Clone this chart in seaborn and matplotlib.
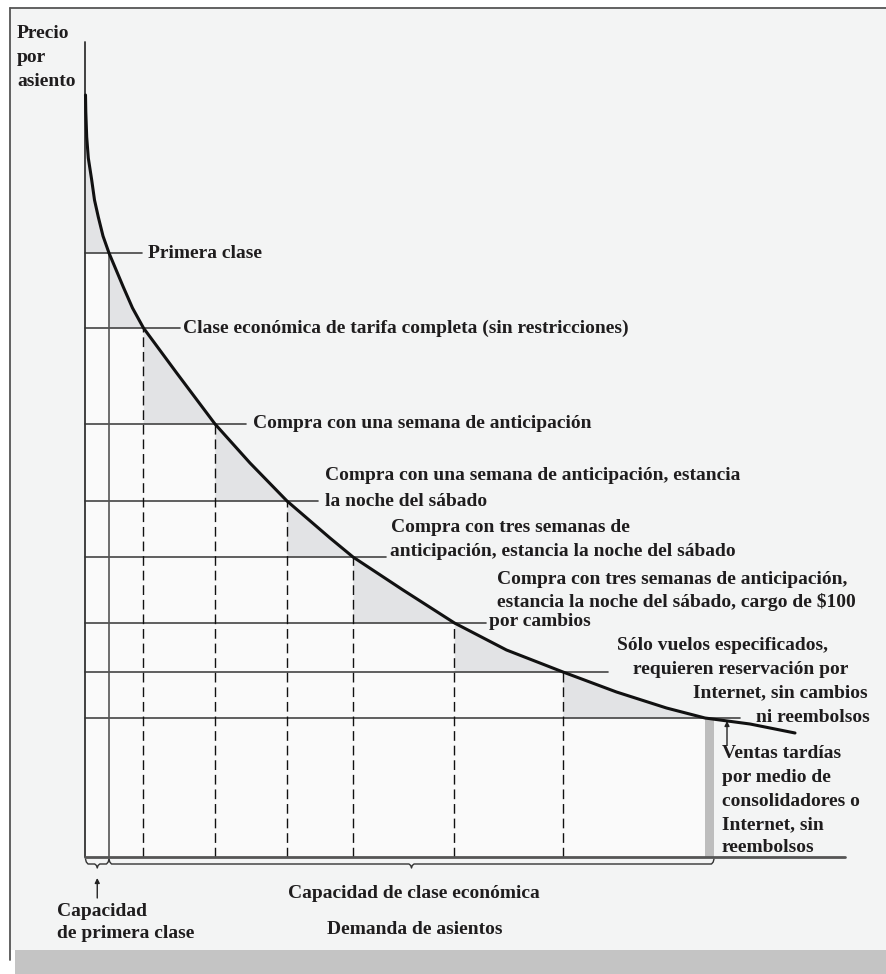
import matplotlib
matplotlib.use("Agg")
import matplotlib.pyplot as plt
import seaborn as sns
import numpy as np
from matplotlib.lines import Line2D
from matplotlib.patches import Rectangle

# ---------------- data ----------------
# demand curve: quantity of seats vs price per seat (arbitrary units)
curve_q = [0, 0.3, 1.2, 2.8, 6.2, 9.0, 12.8, 17.5, 23.5, 37.8, 47, 58, 91.2,
           129.5, 164.5, 201.5, 244.5, 267.5, 317.5, 369, 421, 477.5, 531,
           581, 619.5, 664.5, 709.5]
curve_p = [762, 745, 720, 699, 677, 657, 640, 621, 604, 570, 549, 529, 484,
           433, 394, 356, 319, 300, 267, 234, 207, 185, 165,
           149, 139, 133, 124]

# fare tiers: cumulative seats and price level
tier_q = [23.5, 58, 129.5, 201.5, 267.5, 369, 477.5, 619.5]
tier_p = [604, 529, 433, 356, 300, 234, 185, 139]
tier_line_end = [57, 94.5, 161, 232.5, 301, 401, 523, 654.5]

late_sales_width = 9          # grey bar of late sales
axis_top = 815
axis_right = 760

# tier labels: (anchor tier index, alignment, [(text, x, dy), ...])
tier_labels = [
    (0, "left", [("Primera clase", 62.5, 0)]),
    (1, "left", [("Clase económica de tarifa completa (sin restricciones)", 97.5, 0)]),
    (2, "left", [("Compra con una semana de anticipación", 167.5, 0)]),
    (3, "left", [("Compra con una semana de anticipación, estancia", 239.5, 26),
                 ("la noche del sábado", 239.5, 0)]),
    (4, "left", [("Compra con tres semanas de", 306, 29),
                 ("anticipación, estancia la noche del sábado", 304.5, 5)]),
    (5, "left", [("Compra con tres semanas de anticipación,", 411.5, 43),
                 ("estancia la noche del sábado, cargo de $100", 411.5, 21),
                 ("por cambios", 403.5, 1)]),
    (7, "right", [("Sólo vuelos especificados,", 742.5, 73),
                  ("requieren reservación por", 762.5, 48),
                  ("Internet, sin cambios", 782.5, 25),
                  ("ni reembolsos", 784.5, 1)]),
]
late_label = ["Ventas tardías", "por medio de", "consolidadores o",
              "Internet, sin", "reembolsos"]
y_label = ["Precio", "por", "asiento"]
x_title = "Demanda de asientos"
first_cap = ["Capacidad", "de primera clase"]
econ_cap = "Capacidad de clase económica"

# ---------------- style ----------------
sns.set_theme(style="white")
plt.rcParams["font.family"] = ["Liberation Serif", "DejaVu Serif"]
FS = 14
TXT = "#1f1d1e"
W, H = 887, 974
fig = plt.figure(figsize=(W / 100, H / 100), dpi=100, facecolor="white")


def fx(px):
    return px / W


def fy(py):
    return 1 - py / H


# frame and bottom strip (figure decorations)
fig.add_artist(Rectangle((fx(10), fy(950)), fx(W) - fx(10), fy(8) - fy(950),
                         transform=fig.transFigure, facecolor="#f3f4f4",
                         edgecolor="none", zorder=0))
fig.add_artist(Line2D([fx(10), fx(10)], [fy(960), fy(8)], transform=fig.transFigure,
                      color="#555555", lw=1.3))
fig.add_artist(Line2D([fx(10), fx(W)], [fy(8), fy(8)], transform=fig.transFigure,
                      color="#555555", lw=1.3))
fig.add_artist(Rectangle((fx(15), fy(H)), fx(W) - fx(15), fy(950) - fy(H),
                         transform=fig.transFigure, facecolor="#c4c4c4",
                         edgecolor="none", zorder=1))

ax = fig.add_axes([0, 0, 1, 1])
ax.set_xlim(-85.5, W - 85.5)
ax.set_ylim(857 - H, 857)
ax.axis("off")
ax.patch.set_alpha(0)

cq = np.array(curve_q)
cp = np.array(curve_p)

# lighter cells below each fare level
lefts = [0] + tier_q[:-1]
widths = [r - l for l, r in zip(lefts, tier_q)]
ax.bar(lefts, tier_p, width=widths, align="edge", color="#fafafa",
       edgecolor="none", zorder=1)

# shaded triangles between the curve and each fare level
for l, r, p in zip(lefts, tier_q, tier_p):
    m = (cq >= l - 1e-9) & (cq <= r + 1e-9)
    ax.fill_between(cq[m], cp[m], p, color="#e2e3e5", lw=0, zorder=2)

# late sales bar
ax.bar([tier_q[-1]], [tier_p[-1]], width=late_sales_width, align="edge",
       color="#bdbdbd", edgecolor="none", zorder=3)

# level lines
for p, e in zip(tier_p, tier_line_end):
    ax.plot([0, e], [p, p], color="#444444", lw=1.2, zorder=4)

# vertical lines
ax.plot([tier_q[0], tier_q[0]], [0, tier_p[0]], color="#555555", lw=1.2, zorder=4)
for q, p in zip(tier_q[1:-1], tier_p[1:-1]):
    ax.plot([q, q], [0, p], color="#111111", lw=1.0, ls=(0, (7, 3.5)), zorder=4)

# axes
ax.plot([0, 0], [0, axis_top], color="#333333", lw=1.3, zorder=5)
ax.plot([0, axis_right], [0, 0], color="#555555", lw=2.0, zorder=5)

# demand curve
sns.lineplot(x=curve_q, y=curve_p, ax=ax, color="#111111", lw=2.2,
             sort=False, estimator=None, zorder=6)

# tier labels
for idx, ha, lines in tier_labels:
    p = tier_p[idx]
    for t, x, dy in lines:
        ax.text(x, p + dy, t, fontsize=FS, fontweight="bold",
                ha=ha, va="center", color=TXT, zorder=7)

# late sales label and arrow
for k, t in enumerate(late_label):
    ax.text(636.5, 103 - k * 23.5, t, fontsize=FS, fontweight="bold",
            ha="left", va="center", color=TXT)
ax.annotate("", xy=(641.5, 136), xytext=(641.5, 112),
            arrowprops=dict(arrowstyle="-|>", color="#222222", lw=1.0,
                            mutation_scale=7, shrinkA=0, shrinkB=0))

# y label
for k, t in enumerate(y_label):
    ax.text(-68.5, 824 - k * 24, t, fontsize=FS, fontweight="bold",
            ha="left", va="center", color=TXT)


# curly braces under the x axis
def brace(a, b):
    mid = (a + b) / 2
    xs = [a, a + 0.8, a + 2.5, mid - 2.5, mid - 0.8, mid,
          mid + 0.8, mid + 2.5, b - 2.5, b - 0.8, b]
    ys = [-2, -5, -7, -7, -8.5, -11, -8.5, -7, -7, -5, -2]
    ax.plot(xs, ys, color="#333333", lw=1.0, solid_joinstyle="round")


econ_end = tier_q[-1] + late_sales_width
brace(0, tier_q[0])
brace(tier_q[0], econ_end)

ax.annotate("", xy=(tier_q[0] / 2, -21), xytext=(tier_q[0] / 2, -41),
            arrowprops=dict(arrowstyle="-|>", color="#222222", lw=1.0,
                            mutation_scale=7, shrinkA=0, shrinkB=0))

mid_econ = (tier_q[0] + econ_end) / 2
ax.text(mid_econ + 2, -36, econ_cap, fontsize=FS,
        fontweight="bold", ha="center", va="center", color=TXT)
for k, t in enumerate(first_cap):
    ax.text(-28.5, -55 - k * 21, t, fontsize=FS, fontweight="bold",
            ha="left", va="center", color=TXT)
ax.text(mid_econ + 3, -73, x_title, fontsize=FS, fontweight="bold",
        ha="center", va="center", color=TXT)

fig.savefig("out.png", dpi=100, facecolor=fig.get_facecolor())
